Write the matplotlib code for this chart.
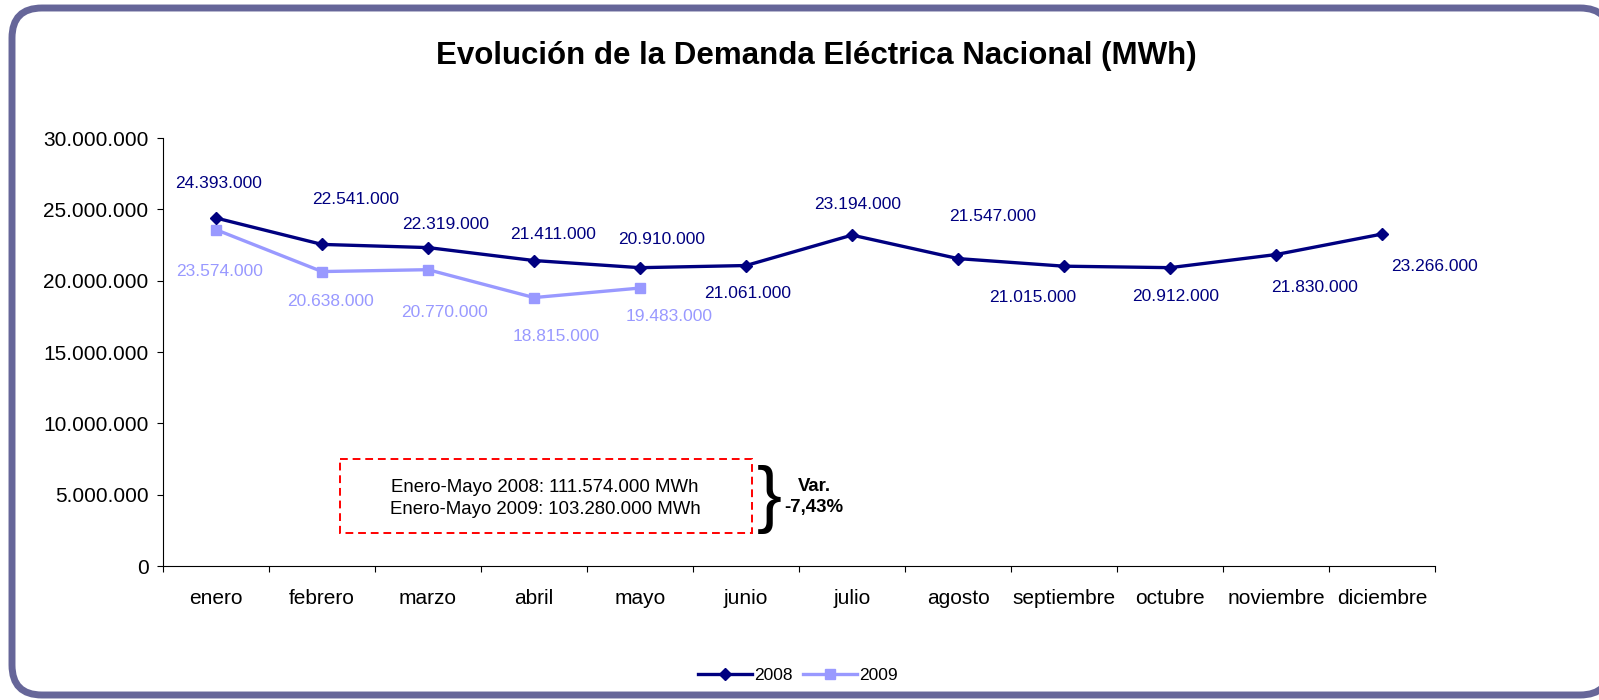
import matplotlib.pyplot as plt
from matplotlib.patches import FancyBboxPatch, Rectangle
from matplotlib.ticker import FuncFormatter, FixedLocator

plt.rcParams['font.family'] = ['Liberation Sans', 'DejaVu Sans']

months = ['enero', 'febrero', 'marzo', 'abril', 'mayo', 'junio', 'julio',
          'agosto', 'septiembre', 'octubre', 'noviembre', 'diciembre']
demand_2008 = [24393000, 22541000, 22319000, 21411000, 20910000, 21061000,
               23194000, 21547000, 21015000, 20912000, 21830000, 23266000]
demand_2009 = [23574000, 20638000, 20770000, 18815000, 19483000]
yticks = [0, 5000000, 10000000, 15000000, 20000000, 25000000, 30000000]
box_lines = ['Enero-Mayo 2008: 111.574.000 MWh', 'Enero-Mayo 2009: 103.280.000 MWh']
var_text = 'Var.\n-7,43%'

# label offsets (pixels) relative to each point
off_2008 = [(3, 34), (34, 45), (18, 23), (19, 26), (22, 28), (2, -28),
            (6, 31), (35, 42), (-31, -31), (6, -29), (39, -33), (52, -32)]
off_2009 = [(4, -42), (9, -30), (16, -43), (22, -39), (29, -28)]

c08 = '#000080'
c09 = '#9999FF'

W, H = 1599, 700
fig = plt.figure(figsize=(W / 100, H / 100), dpi=100)

# background layer in pixel units (y downwards) for frame and box
bg = fig.add_axes([0, 0, 1, 1], zorder=-1)
bg.set_xlim(0, W)
bg.set_ylim(H, 0)
bg.axis('off')
bg.add_patch(FancyBboxPatch((12, 8), 1610 - 12, 695 - 8,
                            boxstyle='round,pad=0,rounding_size=30',
                            facecolor='white', edgecolor='#666699', linewidth=5))
bg.add_patch(Rectangle((340, 459), 752 - 340, 533 - 459, fill=False, edgecolor='red',
                       linestyle=(0, (4, 2.5)), linewidth=1.4))

ax = fig.add_axes([163 / W, 1 - 566 / H, (1435 - 163) / W, (566 - 138) / H])
ax.set_facecolor('none')

x = list(range(len(months)))
ax.plot(x, demand_2008, color=c08, lw=2.4, marker='D', ms=6.1, label='2008', zorder=3)
ax.plot(x[:len(demand_2009)], demand_2009, color=c09, lw=2.4, marker='s', ms=7.2,
        label='2009', zorder=2)

fmt = lambda v: f'{int(v):,}'.replace(',', '.')
for i, v in enumerate(demand_2008):
    ax.annotate(fmt(v), (i, v), xytext=off_2008[i], textcoords='offset pixels',
                ha='center', va='center', fontsize=12.5, color=c08)
for i, v in enumerate(demand_2009):
    ax.annotate(fmt(v), (i, v), xytext=off_2009[i], textcoords='offset pixels',
                ha='center', va='center', fontsize=12.5, color=c09)

ax.set_xlim(-0.5, len(months) - 0.5)
ax.set_ylim(0, 30000000)
ax.set_yticks(yticks)
ax.yaxis.set_major_formatter(FuncFormatter(lambda v, p: fmt(v)))
ax.set_xticks(x)
ax.set_xticklabels(months)
ax.xaxis.set_minor_locator(FixedLocator([i - 0.5 for i in range(len(months) + 1)]))
ax.tick_params(axis='x', which='major', length=0, pad=16.5, labelsize=15)
ax.tick_params(axis='x', which='minor', length=4.5, width=0.8, direction='out')
ax.tick_params(axis='y', length=4.5, width=0.8, pad=6, labelsize=15)
for s in ['top', 'right']:
    ax.spines[s].set_visible(False)
for s in ['left', 'bottom']:
    ax.spines[s].set_linewidth(0.8)

fig.text(816 / W, 1 - 56 / H, 'Evolución de la Demanda Eléctrica Nacional (MWh)',
         ha='center', va='center', fontsize=22.5, fontweight='bold')

fig.text(545 / W, 1 - 487 / H, box_lines[0], ha='center', va='center', fontsize=13.4)
fig.text(545 / W, 1 - 509 / H, box_lines[1], ha='center', va='center', fontsize=13.4)
fig.text(769 / W, 1 - 500 / H, '}', ha='center', va='center', fontsize=54)
fig.text(814 / W, 1 - 497 / H, var_text, ha='center', va='center', fontsize=13.4,
         fontweight='bold', linespacing=1.3)

fig.legend(loc='center', bbox_to_anchor=(798 / W, 1 - 675 / H), ncol=2, frameon=False,
           fontsize=12.5, handlelength=3.1, handletextpad=0.15, columnspacing=0.6)

fig.savefig('out.png', dpi=100)
